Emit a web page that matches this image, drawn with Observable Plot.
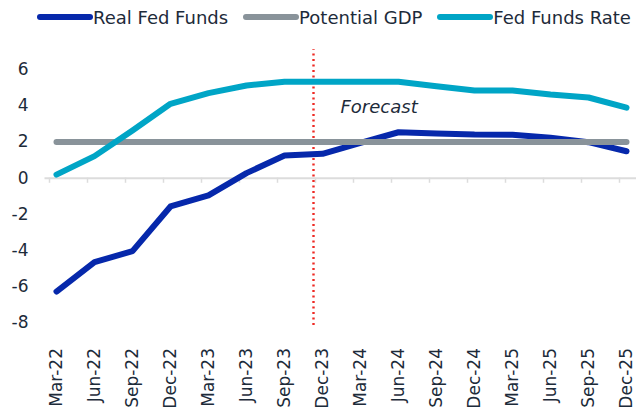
<!DOCTYPE html>
<html>
<head>
<meta charset="utf-8">
<script src="https://cdn.jsdelivr.net/npm/d3@7"></script>
<script src="https://cdn.jsdelivr.net/npm/@observablehq/plot@0.6"></script>
<style>
  html, body { margin: 0; padding: 0; background: #fff; }
  body { width: 636px; height: 410px; overflow: hidden; font-family: "DejaVu Sans", sans-serif; color: #1d2b3a; }
  #legend { height: 34px; display: flex; align-items: center; padding-left: 37px; font-size: 18px; }
  .item { display: flex; align-items: center; margin-right: 15px; white-space: nowrap; }
  .sw { display: inline-block; width: 56px; height: 6px; border-radius: 3px; }
  #chart svg { display: block; }
</style>
</head>
<body>
<div id="legend"></div>
<div id="chart"></div>
<script>
const dates = ["Mar-22","Jun-22","Sep-22","Dec-22","Mar-23","Jun-23","Sep-23","Dec-23","Mar-24","Jun-24","Sep-24","Dec-24","Mar-25","Jun-25","Sep-25","Dec-25"];
const realFedFunds = [-6.26,-4.64,-4.03,-1.56,-0.95,0.28,1.25,1.35,1.95,2.54,2.47,2.41,2.40,2.23,1.99,1.49];
const potentialGDP = [2.0,2.0,2.0,2.0,2.0,2.0,2.0,2.0,2.0,2.0,2.0,2.0,2.0,2.0,2.0,2.0];
const fedFundsRate = [0.2,1.22,2.64,4.11,4.70,5.12,5.33,5.33,5.33,5.33,5.08,4.85,4.85,4.62,4.46,3.9];
const yTicks = [-8,-6,-4,-2,0,2,4,6];
const seriesNames = ["Real Fed Funds","Potential GDP","Fed Funds Rate"];
const seriesColors = ["#0628ab","#89939a","#00a5c6"];
const forecastStart = "Dec-23";
const forecastLabel = {text: "Forecast", x: "Mar-24", y: 3.9};

const rows = dates.map((d, i) => ({date: d, real: realFedFunds[i], gdp: potentialGDP[i], ffr: fedFundsRate[i]}));

// legend
const legend = document.getElementById("legend");
seriesNames.forEach((n, i) => {
  const it = document.createElement("div");
  it.className = "item";
  it.innerHTML = `<span class="sw" style="background:${seriesColors[i]}"></span><span>${n}</span>`;
  legend.appendChild(it);
});

const lineOpts = {x: "date", strokeWidth: 6, strokeLinecap: "round", strokeLinejoin: "round"};

const chart = Plot.plot({
  width: 636,
  height: 376,
  marginLeft: 52.5,
  marginRight: 6,
  marginTop: 13.4,
  marginBottom: 87.5,
  style: {fontFamily: "DejaVu Sans, sans-serif", fontSize: "17px", color: "#1d2b3a", background: "#fff", overflow: "visible"},
  x: {type: "point", domain: dates, padding: 0},
  y: {domain: [-8, 7.2]},
  marks: [
    Plot.ruleY([0], {stroke: "#dcdcdc", strokeWidth: 2, insetLeft: -8, insetRight: -6}),
    Plot.ruleX(dates, {x: d => d, y1: 0, y2: -0.28, dx: -7, stroke: "#dcdcdc", strokeWidth: 1.5}),
    Plot.axisY({ticks: yTicks, tickFormat: d => String(d), tickSize: 0, tickPadding: 24.5, label: null, fontSize: 17}),
    Plot.axisX({tickSize: 0, tickRotate: -90, tickPadding: 25, label: null, fontSize: 17}),
    Plot.ruleX([forecastStart], {x: d => d, y1: -8.14, y2: 7.1, dx: -9, stroke: "#ee2a24", strokeWidth: 2.4, strokeDasharray: "2 3.5"}),
    Plot.line(rows, {...lineOpts, y: "real", stroke: seriesColors[0]}),
    Plot.line(rows, {...lineOpts, y: "gdp", stroke: seriesColors[1]}),
    Plot.line(rows, {...lineOpts, y: "ffr", stroke: seriesColors[2]}),
    Plot.text([forecastLabel], {x: "x", y: "y", text: "text", textAnchor: "start", dx: -20, fontStyle: "italic", fontSize: 18, fill: "#1d2b3a"})
  ]
});
document.getElementById("chart").appendChild(chart);
</script>
</body>
</html>
